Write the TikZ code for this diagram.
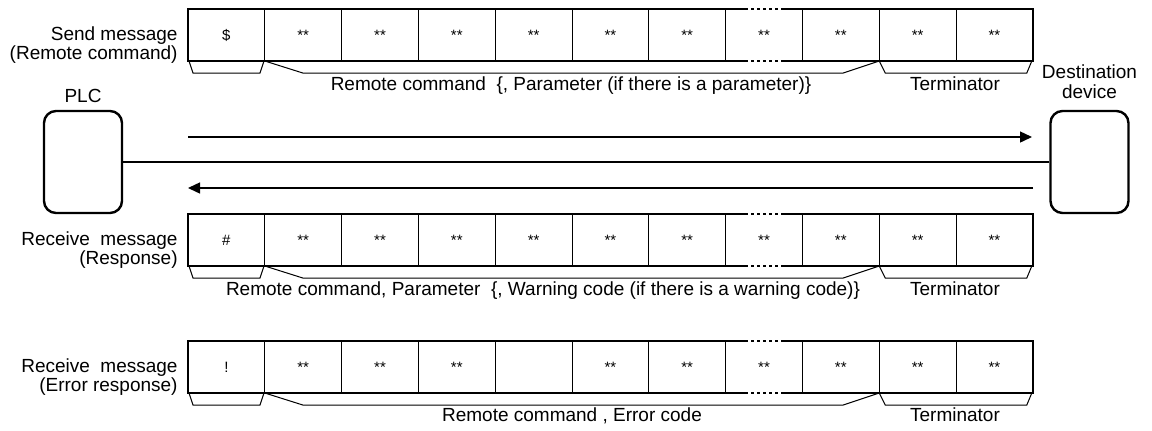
\documentclass[tikz,border=0pt]{standalone}
\usepackage{fontspec}
\setmainfont{Liberation Sans}
\usetikzlibrary{arrows.meta, positioning}

\begin{document}
\begin{tikzpicture}[
    x=0.5pt, y=-0.5pt,
    cell/.style={minimum width=38.4pt, minimum height=26pt, inner sep=0pt, outer sep=0pt, text height=6pt, text depth=1pt, font=\fontsize{7.5}{8}\selectfont},
    frame/.style={line width=1.3pt},
    dots/.style={line width=1.3pt, dash pattern=on 1.5pt off 1.5pt},
    sep/.style={line width=0.5pt},
    lbl/.style={inner sep=0pt, font=\fontsize{9.5}{9.5}\selectfont},
    side/.style={lbl, align=right, anchor=east},
    unit/.style={draw, rounded corners=6pt, line width=1.2pt, minimum width=39pt, minimum height=51pt, inner sep=0pt},
    arrow/.style={-{Triangle[length=6pt, width=5.5pt]}, line width=0.7pt}
]
\useasboundingbox (0,0) rectangle (1152,430);

\foreach \t [count=\i from 0] in {\$,**,**,**,**,**,**,**,**,**,**}
    \node[cell] (s\i) at ({226.4+76.8*\i}, 35) {\t};
\foreach \t [count=\i from 0] in {\#,**,**,**,**,**,**,**,**,**,**}
    \node[cell] (r\i) at ({226.4+76.8*\i}, 240) {\t};
\foreach \t [count=\i from 0] in {!,**,**,**,{},**,**,**,**,**,**}
    \node[cell] (e\i) at ({226.4+76.8*\i}, 367) {\t};

\foreach \m in {s,r,e} {
    \foreach \i in {0,...,9}
        \draw[sep] (\m\i.north east) -- (\m\i.south east);
    \draw[frame] ([xshift=9.7pt]\m7.north west) -| (\m0.south west) -- ([xshift=9.7pt]\m7.south west);
    \draw[frame] ([xshift=-10.2pt]\m7.north east) -| (\m10.south east) -- ([xshift=-10.2pt]\m7.south east);
    \draw[dots] ([xshift=9.7pt]\m7.north west) -- ([xshift=-10.2pt]\m7.north east);
    \draw[dots] ([xshift=9.7pt]\m7.south west) -- ([xshift=-10.2pt]\m7.south east);
    \draw[sep] ([xshift=0.5pt]\m0.south west) -- ++(4,12) -- ++(67,0) -- ++(4,-12);
    \draw[sep] (\m0.south east) -- ++(38,12) -- ([xshift=-18pt,yshift=-6pt]\m8.south east) -- (\m8.south east);
    \draw[sep] (\m8.south east) -- ++(6,12) -- ([xshift=-3pt,yshift=-6pt]\m10.south east) -- ([xshift=-0.5pt]\m10.south east);
}

\node[side] (slbl) at (178,44.7) {Send message\\(Remote command)};
\node[side] (rlbl) at (178,249.7) {Receive\ \ message\\(Response)};
\node[side] (elbl) at (178,376.7) {Receive\ \ message\\(Error response)};

\node[lbl, anchor=base] (scmd) at (571,90) {Remote command\ \ \{, Parameter (if there is a parameter)\}};
\node[lbl, anchor=base] (sterm) at (955,90) {Terminator};
\node[lbl, anchor=base] (rcmd) at (543,295) {Remote command, Parameter\ \ \{, Warning code (if there is a warning code)\}};
\node[lbl, anchor=base] (rterm) at (955,295) {Terminator};
\node[lbl, anchor=base] (ecmd) at (572,421) {Remote command , Error code};
\node[lbl, anchor=base] (eterm) at (955,421) {Terminator};

\node[unit] (plc) at (83,162) {};
\node[unit] (dev) at (1089.5,162) {};
\node[lbl, above=3.5pt of plc] (plclbl) {PLC};
\node[lbl, align=center, font=\fontsize{9.5}{10}\selectfont, above=5.5pt of dev] (devlbl) {Destination\\device};
\draw[line width=1pt] (plc) -- (dev);

\coordinate (txs) at (188,137);
\coordinate (txe) at (1032,137);
\coordinate (rxs) at (1033,188);
\coordinate (rxe) at (188,188);
\draw[arrow] (txs) -- (txe);
\draw[arrow] (rxs) -- (rxe);
\end{tikzpicture}
\end{document}
